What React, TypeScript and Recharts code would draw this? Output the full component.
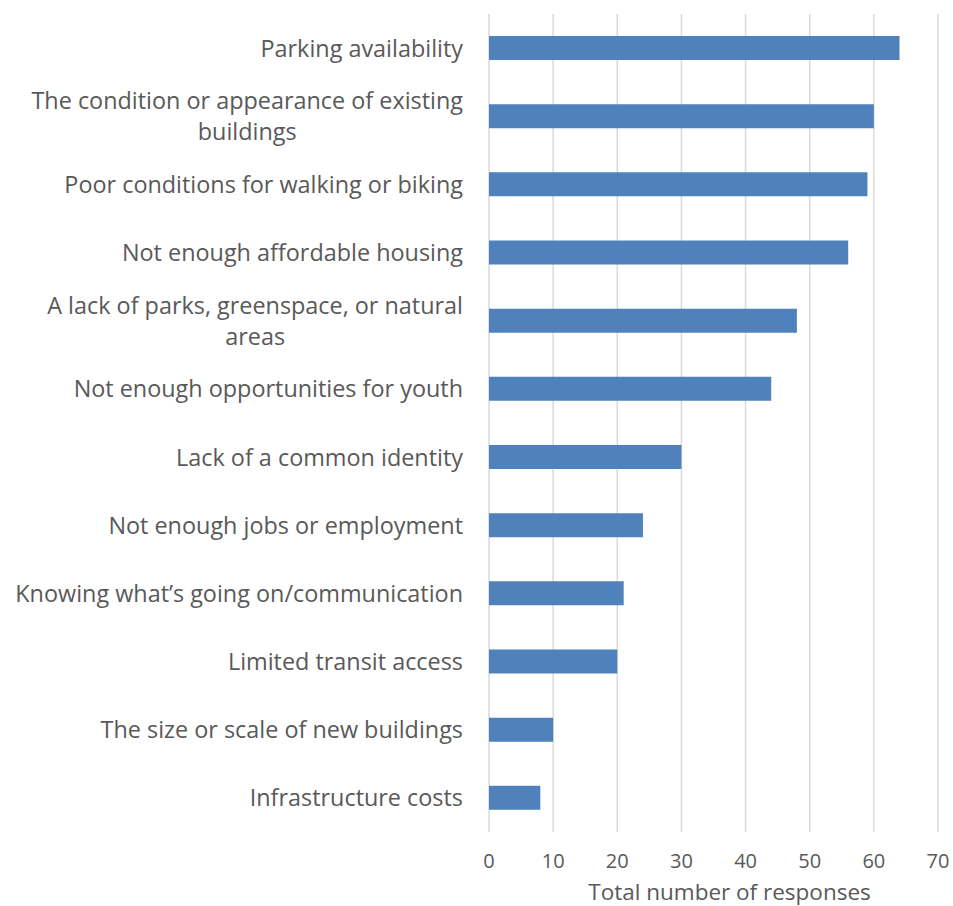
import React from "react";
import { BarChart, Bar, XAxis, YAxis, CartesianGrid, Label } from "recharts";

const categories = [
  "Parking availability",
  "The condition or appearance of existing|buildings",
  "Poor conditions for walking or biking",
  "Not enough affordable housing",
  "A lack of parks, greenspace, or natural|areas",
  "Not enough opportunities for youth",
  "Lack of a common identity",
  "Not enough jobs or employment",
  "Knowing what\u2019s going on/communication",
  "Limited transit access",
  "The size or scale of new buildings",
  "Infrastructure costs",
];
const responses = [64, 60, 59, 56, 48, 44, 30, 24, 21, 20, 10, 8];
const xTicks = [0, 10, 20, 30, 40, 50, 60, 70];

const data = categories.map((name, i) => ({ name, value: responses[i] }));

const FONT = "'Open Sans', sans-serif";
const TEXT = "#595959";
const CAT_SIZE = 23.4;

let ctx: CanvasRenderingContext2D | null = null;
function measure(s: string): number {
  if (!ctx) ctx = document.createElement("canvas").getContext("2d");
  if (!ctx) return s.length * CAT_SIZE * 0.5;
  ctx.font = `${CAT_SIZE}px 'Open Sans'`;
  return ctx.measureText(s).width;
}

const CategoryTick = (props: any) => {
  const { x, y, payload } = props;
  const lines: string[] = String(payload.value).split("|");
  const right = x - 18;
  if (lines.length === 1) {
    return (
      <text x={right} y={y} dy="0.36em" textAnchor="end" fill={TEXT} fontSize={CAT_SIZE} fontFamily={FONT}>
        {lines[0]}
      </text>
    );
  }
  const w = measure(lines[0]);
  const cx = right - w / 2;
  const lh = 31;
  return (
    <text fill={TEXT} fontSize={CAT_SIZE} fontFamily={FONT} textAnchor="middle">
      {lines.map((l, i) => (
        <tspan key={i} x={cx} y={y + (i - (lines.length - 1) / 2) * lh} dy="0.36em">
          {l}
        </tspan>
      ))}
    </text>
  );
};

export default function App() {
  return (
    <div style={{ position: "absolute", left: 0, top: 0, width: 953, height: 906, background: "#fff" }}>
      <BarChart
        width={953}
        height={906}
        data={data}
        layout="vertical"
        margin={{ top: 14, right: 15, bottom: 0, left: 0 }}
        barSize={24}
      >
        <CartesianGrid horizontal={false} vertical={true} stroke="#d9d9d9" strokeWidth={1.5} />
        <XAxis
          type="number"
          domain={[0, 70]}
          ticks={xTicks}
          axisLine={false}
          tickLine={false}
          height={74}
          tick={{ fill: TEXT, fontSize: 20, fontFamily: FONT }}
          tickMargin={16}
          interval={0}
        >
          <Label
            value="Total number of responses"
            position="insideBottom"
            offset={6.5}
            dx={16}
            fill={TEXT}
            fontSize={22.5}
            fontFamily={FONT}
          />
        </XAxis>
        <YAxis
          type="category"
          dataKey="name"
          width={489}
          axisLine={false}
          tickLine={false}
          tick={<CategoryTick />}
          interval={0}
        />
        <Bar dataKey="value" fill="#4f81bd" isAnimationActive={false} />
      </BarChart>
    </div>
  );
}
